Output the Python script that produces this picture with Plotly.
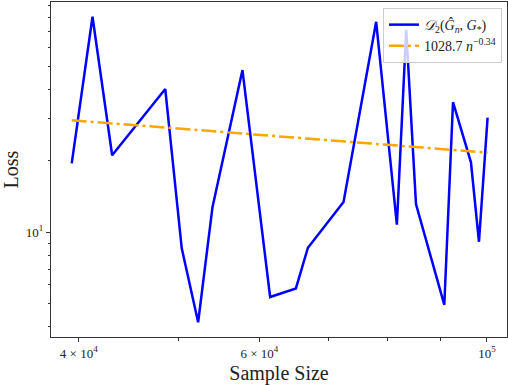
import numpy as np
import plotly.graph_objects as go

# Data
sample_size = [39370, 41250, 43110, 48570, 50400, 52290, 54000, 57760, 61460, 65120,
               66900, 72470, 77980, 81690, 83420, 85270, 90870, 92660, 96470, 98220, 100140]
loss = [19.5, 80.8, 21.1, 40.1, 8.56, 4.18, 12.75, 48.2, 5.34, 5.80,
        8.61, 13.4, 77.0, 10.76, 71.0, 13.15, 4.95, 35.3, 19.7, 9.12, 30.4]
fit_coef = 1028.7
fit_exp = -0.3353

x_tickvals = [4e4, 6e4, 1e5]
x_ticktext = ["4 × 10<sup>4</sup>", "6 × 10<sup>4</sup>", "10<sup>5</sup>"]
x_minor = [5e4, 7e4, 8e4, 9e4]
y_tickvals = [10]
y_ticktext = ["10<sup>1</sup>"]
y_minor = [4, 5, 6, 7, 8, 9, 20, 30, 40, 50, 60, 70, 80, 90]

fit = [fit_coef * n ** fit_exp for n in sample_size]

FONT = "Liberation Serif"

fig = go.Figure()
fig.add_trace(go.Scatter(
    x=sample_size, y=loss, mode="lines",
    line=dict(color="#0000ff", width=2.5),
    name="<i>𝒟</i><sub>2</sub>(<i>Ĝ</i><sub><i>n</i></sub>, <i>G</i><sub>*</sub>)",
))
fig.add_trace(go.Scatter(
    x=sample_size, y=fit, mode="lines",
    line=dict(color="orange", width=2.5, dash="15px,4px,3px,4px"),
    name="1028.7 <i>n</i><sup>−0.34</sup>",
))

axis_common = dict(
    type="log", showgrid=False, zeroline=False,
    showline=True, linecolor="#333", linewidth=1, mirror=True,
    ticks="outside", ticklen=4, tickwidth=1, tickcolor="#333",
    tickfont=dict(family=FONT, size=13, color="#222"),
)

fig.update_xaxes(
    **axis_common,
    automargin=True,
    range=[np.log10(37580), np.log10(104600)],
    tickmode="array", tickvals=x_tickvals, ticktext=x_ticktext,
    minor=dict(tickmode="array", tickvals=x_minor, ticks="outside", ticklen=2.5, tickcolor="#333"),
    title=dict(text="Sample Size", font=dict(family=FONT, size=20, color="#222"), standoff=9),
)
fig.update_yaxes(
    **axis_common,
    automargin=False,
    range=[0.559, 1.9697],
    tickmode="array", tickvals=y_tickvals, ticktext=y_ticktext,
    minor=dict(tickmode="array", tickvals=y_minor, ticks="outside", ticklen=2.5, tickcolor="#333"),
    title=dict(text="Loss", font=dict(family=FONT, size=20, color="#222")),
)

fig.update_layout(
    width=508, height=385,
    margin=dict(l=51, r=1, t=1, b=44),
    paper_bgcolor="white", plot_bgcolor="white",
    showlegend=True,
    legend=dict(
        x=0.989, xanchor="right", y=0.982, yanchor="top",
        bgcolor="rgba(255,255,255,0.8)", bordercolor="#cccccc", borderwidth=1,
        font=dict(family=FONT, size=14, color="#222"),
        itemwidth=30, tracegroupgap=0,
    ),
)

fig.write_html("out.html")
